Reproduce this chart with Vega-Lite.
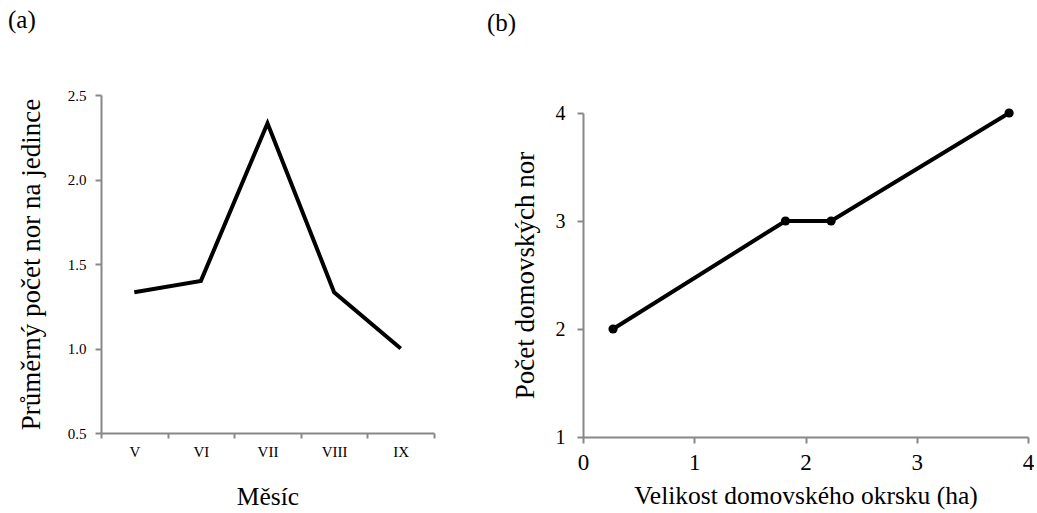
{
  "$schema": "https://vega.github.io/schema/vega-lite/v6.json",
  "padding": {"left": 8, "top": 8, "right": 0, "bottom": 0},
  "background": "white",
  "config": {
    "view": {"stroke": null},
    "font": "Liberation Serif",
    "axis": {
      "domainColor": "#888888",
      "domainWidth": 2,
      "tickColor": "#888888",
      "tickWidth": 2,
      "grid": false,
      "labelColor": "#000000",
      "titleColor": "#000000",
      "labelFont": "Liberation Serif",
      "titleFont": "Liberation Serif",
      "titleFontWeight": "normal",
      "labelFlush": false
    }
  },
  "spacing": 52,
  "hconcat": [
    {
      "title": {"text": "(a)", "anchor": "start", "frame": "group", "dx": -93, "offset": 35, "fontSize": 25, "fontWeight": "normal", "font": "Liberation Serif", "baseline": "alphabetic", "color": "#000000"},
      "width": 333,
      "height": 338,
      "data": {"values": [
        {"mesic": "V", "pocet": 1.333},
        {"mesic": "VI", "pocet": 1.4},
        {"mesic": "VII", "pocet": 2.333},
        {"mesic": "VIII", "pocet": 1.333},
        {"mesic": "IX", "pocet": 1.0}
      ]},
      "mark": {"type": "line", "color": "#000000", "strokeWidth": 4},
      "encoding": {
        "x": {"field": "mesic", "type": "ordinal", "sort": null,
          "scale": {"type": "band", "paddingInner": 0, "paddingOuter": 0},
          "axis": {"title": "Měsíc", "labelAngle": 0, "tickBand": "extent", "labelFontSize": 15, "titleFontSize": 25.5, "tickSize": 5, "labelPadding": 6, "titlePadding": 25}},
        "y": {"field": "pocet", "type": "quantitative",
          "scale": {"domain": [0.5, 2.5], "nice": false, "zero": false},
          "axis": {"values": [0.5, 1, 1.5, 2, 2.5], "format": ".1f", "title": "Průměrný počet nor na jedince", "labelFontSize": 15, "titleFontSize": 27, "tickSize": 6, "labelPadding": 9, "titlePadding": 22}}
      }
    },
    {
      "title": {"text": "(b)", "anchor": "start", "frame": "group", "dx": -96, "offset": 39, "fontSize": 25, "fontWeight": "normal", "font": "Liberation Serif", "baseline": "alphabetic", "color": "#000000"},
      "width": 445,
      "height": 342,
      "data": {"values": [
        {"velikost": 0.27, "nory": 2},
        {"velikost": 1.82, "nory": 3},
        {"velikost": 2.23, "nory": 3},
        {"velikost": 3.83, "nory": 4}
      ]},
      "mark": {"type": "line", "color": "#000000", "strokeWidth": 4, "point": {"filled": true, "size": 85, "color": "#000000"}},
      "encoding": {
        "x": {"field": "velikost", "type": "quantitative",
          "scale": {"domain": [0, 4], "nice": false},
          "axis": {"values": [0, 1, 2, 3, 4], "format": "d", "title": "Velikost domovského okrsku (ha)", "labelFontSize": 23, "titleFontSize": 25.5, "tickSize": 6, "labelPadding": 8, "titlePadding": 9}},
        "y": {"field": "nory", "type": "quantitative",
          "scale": {"domain": [1, 4], "nice": false, "zero": false, "range": [342, 18]},
          "axis": {"values": [1, 2, 3, 4], "format": "d", "title": "Počet domovských nor", "labelFontSize": 20, "titleFontSize": 27, "tickSize": 6, "labelPadding": 12, "titlePadding": 16}}
      }
    }
  ]
}
